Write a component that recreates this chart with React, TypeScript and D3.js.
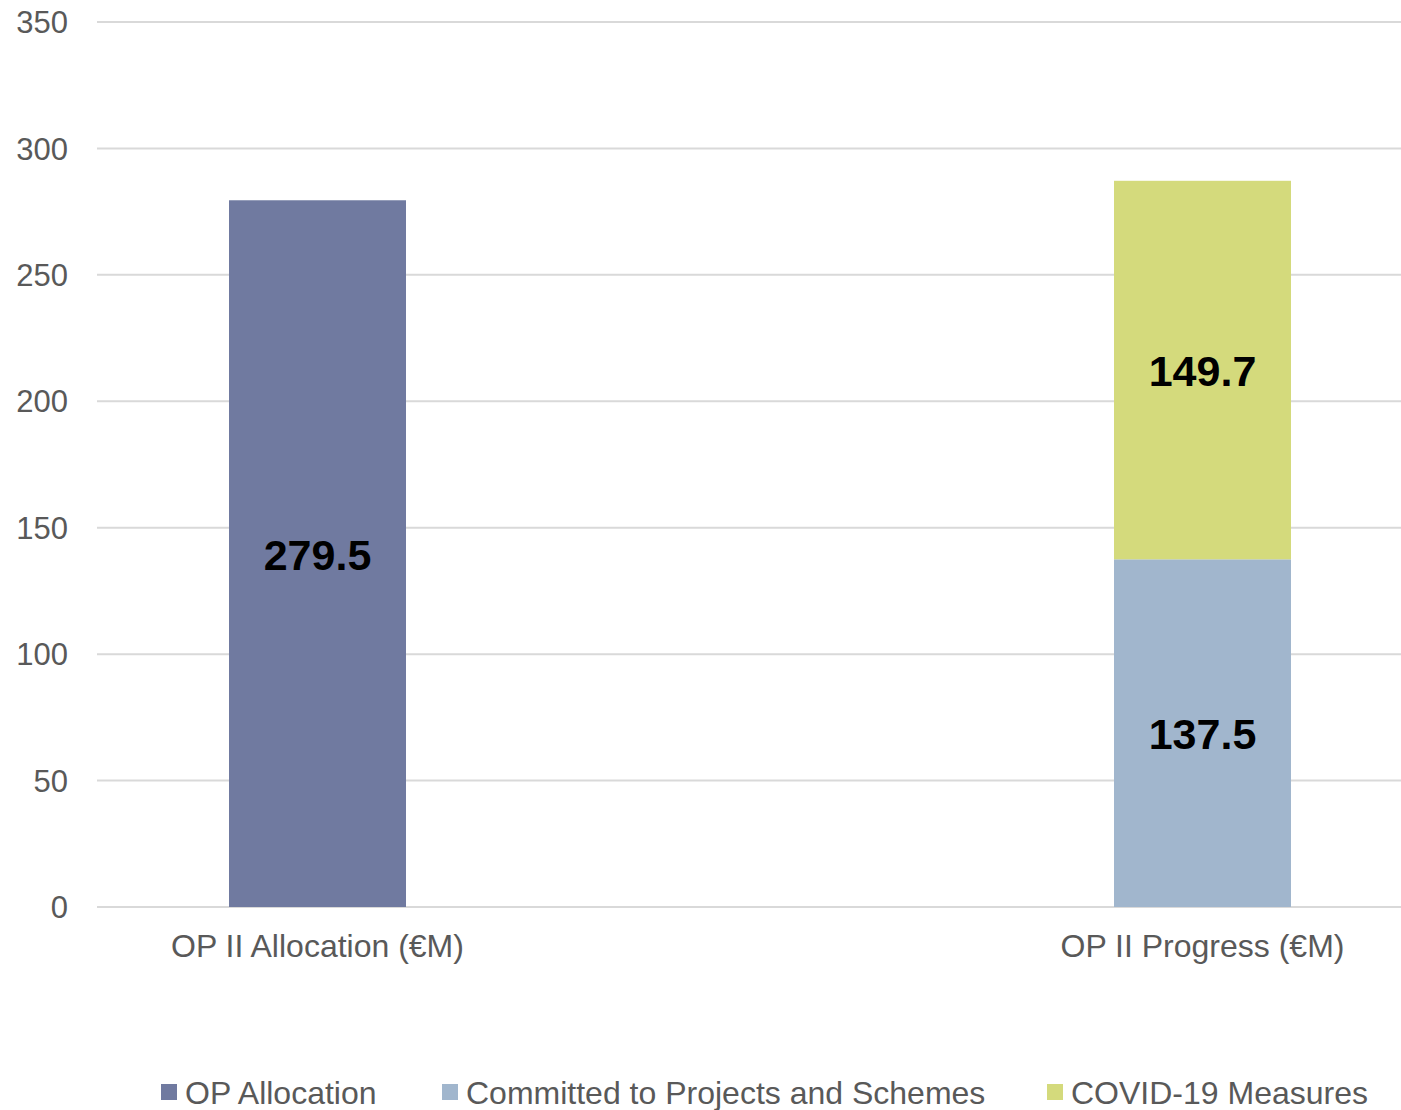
import { useMemo } from "react";
import * as d3 from "d3";

const WIDTH = 1401;
const HEIGHT = 1110;
const MARGIN = { top: 22, right: 0, bottom: 203, left: 97 };

const categories = ["OP II Allocation (€M)", "OP II Progress (€M)"];
const seriesNames = ["OP Allocation", "Committed to Projects and Schemes", "COVID-19 Measures"];
const allocation = [279.5, 0];
const committed = [0, 137.5];
const covid = [0, 149.7];
const yTicks = [0, 50, 100, 150, 200, 250, 300, 350];

const COLORS = ["#707AA0", "#A1B6CD", "#D4DA7C"];
const TEXT = "#595959";
const FONT = "'Liberation Sans', Arial, sans-serif";

// legend item x positions (layout only)
const LEGEND_X = [161, 442, 1047];

const App = () => {
  const boundsWidth = WIDTH - MARGIN.left - MARGIN.right;
  const boundsHeight = HEIGHT - MARGIN.top - MARGIN.bottom;

  const yScale = useMemo(() => d3.scaleLinear().domain([0, 350]).range([boundsHeight, 0]), [boundsHeight]);
  const xScale = useMemo(
    () => d3.scalePoint<string>().domain(categories).range([220.5, 1105.5]),
    []
  );
  const barWidth = 177;

  const table = categories.map((c, i) => ({
    category: c,
    [seriesNames[0]]: allocation[i],
    [seriesNames[1]]: committed[i],
    [seriesNames[2]]: covid[i],
  }));
  const stacked = d3.stack<any>().keys(seriesNames)(table);

  return (
    <svg
      width={WIDTH}
      height={HEIGHT}
      style={{ position: "absolute", left: 0, top: 0, background: "#fff" }}
      fontFamily={FONT}
    >
      <g transform={`translate(${MARGIN.left},${MARGIN.top})`}>
        {yTicks.map((t) => (
          <g key={t}>
            <line x1={0} x2={boundsWidth} y1={yScale(t)} y2={yScale(t)} stroke="#D9D9D9" strokeWidth={2} />
            <text x={-29} y={yScale(t)} dy="0.36em" textAnchor="end" fontSize={31} fill={TEXT}>
              {t}
            </text>
          </g>
        ))}

        {stacked.map((layer, si) =>
          layer.map((d, ci) => {
            const v = d[1] - d[0];
            if (!v) return null;
            const cx = xScale(categories[ci]) as number;
            const y0 = yScale(d[0]);
            const y1 = yScale(d[1]);
            return (
              <g key={`${si}-${ci}`}>
                <rect x={cx - barWidth / 2} y={y1} width={barWidth} height={y0 - y1} fill={COLORS[si]} />
                <text
                  x={cx}
                  y={(y0 + y1) / 2}
                  dy="0.37em"
                  textAnchor="middle"
                  fontSize={43}
                  fontWeight="bold"
                  fill="#000"
                >
                  {v.toFixed(1)}
                </text>
              </g>
            );
          })
        )}

        {categories.map((c) => (
          <text key={c} x={xScale(c) as number} y={boundsHeight + 50} textAnchor="middle" fontSize={32} fill={TEXT}>
            {c}
          </text>
        ))}
      </g>

      {seriesNames.map((s, i) => (
        <g key={s} transform={`translate(${LEGEND_X[i]},${1084})`}>
          <rect x={0} y={0} width={16} height={16} fill={COLORS[i]} />
          <text x={24} y={8} dy="0.36em" fontSize={32} fill={TEXT}>
            {s}
          </text>
        </g>
      ))}
    </svg>
  );
};

export default App;
